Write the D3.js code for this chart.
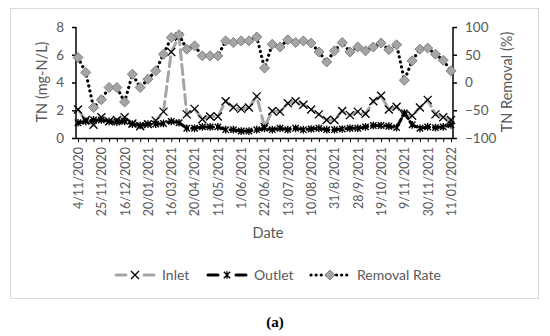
<!DOCTYPE html>
<html>
<head>
<meta charset="utf-8">
<script src="https://cdn.jsdelivr.net/npm/d3@7"></script>
<style>
  body { margin: 0; background: #fff; }
  svg text { font-family: Lato, "Open Sans", sans-serif; }
</style>
</head>
<body>
<div id="chart"></div>
<script>
// sampling dates (only every third one is labelled on the axis)
const dates = [
  '4/11/2020', '11/11/2020', '18/11/2020', '25/11/2020', '2/12/2020', '9/12/2020',
  '16/12/2020', '6/01/2021', '13/01/2021', '20/01/2021', '2/03/2021', '9/03/2021',
  '16/03/2021', '23/03/2021', '13/04/2021', '20/04/2021', '27/04/2021', '4/05/2021',
  '11/05/2021', '18/05/2021', '25/05/2021', '1/06/2021', '8/06/2021', '15/06/2021',
  '22/06/2021', '29/06/2021', '6/07/2021', '13/07/2021', '27/07/2021', '3/08/2021',
  '10/08/2021', '17/08/2021', '24/08/2021', '31/8/2021', '14/9/2021', '21/9/2021',
  '28/9/2021', '5/10/2021', '12/10/2021', '19/10/2021', '26/10/2021', '2/11/2021',
  '9/11/2021', '16/11/2021', '23/11/2021', '30/11/2021', '14/12/2021', '21/12/2021',
  '11/01/2022'
];

// TN (mg-N/L)
const inlet = [
  2.05, 1.3, 0.95, 1.5, 1.2, 1.3, 1.5, 1.05, 0.85, 1.0, 1.25, 1.9,
  6.2, 7.3, 1.7, 2.1, 1.35, 1.55, 1.55, 2.65, 2.2, 2.1, 2.2, 3.0,
  0.8, 1.95, 1.9, 2.5, 2.65, 2.4, 2.05, 1.7, 1.3, 1.3, 1.95, 1.65,
  1.9, 1.75, 2.65, 3.05, 2.05, 2.25, 1.65, 1.6, 2.2, 2.75, 1.7, 1.5, 1.3
];
const outlet = [
  1.1, 1.2, 1.3, 1.3, 1.2, 1.15, 1.2, 1.0, 0.9, 1.0, 1.0, 1.05,
  1.2, 1.1, 0.7, 0.7, 0.8, 0.8, 0.8, 0.6, 0.6, 0.5, 0.5, 0.6,
  0.7, 0.6, 0.7, 0.6, 0.7, 0.6, 0.65, 0.7, 0.6, 0.6, 0.65, 0.7,
  0.7, 0.8, 0.9, 0.9, 0.85, 0.75, 1.8, 0.95, 0.7, 0.8, 0.75, 0.8, 0.95
];
// TN removal (%)
const removal = [
  45, 18, -45, -31, -9, -9, -35, 15, -9, 6, 21, 51,
  81, 86, 60, 66, 48, 48, 48, 75, 72, 75, 75, 82,
  26, 69, 64, 77, 72, 75, 71, 55, 37, 57, 72, 55,
  64, 57, 64, 71, 59, 68, 4, 39, 60, 62, 51, 40, 21
];

const tnTicks = [0, 2, 4, 6, 8];
const remTicks = [-100, -50, 0, 50, 100];

const W = 550, H = 336;
const textGrey = '#595959';

const svg = d3.select('#chart').append('svg')
  .attr('width', W).attr('height', H);

// outer frame
svg.append('rect')
  .attr('x', 10.5).attr('y', 8.5)
  .attr('width', 528).attr('height', 290)
  .attr('fill', 'none').attr('stroke', '#d9d9d9');

const x = d3.scalePoint().domain(dates).range([78, 451]);
const yL = d3.scaleLinear().domain([0, 8]).range([138, 27]);
const yR = d3.scaleLinear().domain([-100, 100]).range([138, 27]);

// axes
const xAxis = svg.append('g')
  .attr('transform', 'translate(0,138)')
  .call(d3.axisBottom(x)
    .tickSize(4)
    .tickFormat((d, i) => i % 3 === 0 ? d : ''));
xAxis.select('.domain').attr('d', 'M76,0.5H453').attr('stroke', '#000').attr('stroke-width', 1.5);
xAxis.selectAll('.tick line').attr('stroke', '#000');
xAxis.selectAll('.tick text')
  .attr('transform', 'rotate(-90)')
  .attr('text-anchor', 'end')
  .attr('x', -9).attr('y', 0).attr('dy', '0.35em')
  .attr('fill', textGrey)
  .style('font-size', '12.5px');

const leftAxis = svg.append('g')
  .attr('transform', 'translate(76,0)')
  .call(d3.axisLeft(yL).tickValues(tnTicks).tickSize(4).tickPadding(8));
leftAxis.select('.domain').attr('stroke', '#000').attr('stroke-width', 1.5)
  .attr('d', 'M0,' + yL(8) + 'V' + yL(0));
leftAxis.selectAll('.tick line').attr('stroke', '#000').attr('stroke-width', 1.5);
leftAxis.selectAll('.tick text').attr('fill', textGrey).style('font-size', '13.5px');

const rightAxis = svg.append('g')
  .attr('transform', 'translate(453,0)')
  .call(d3.axisRight(yR).tickValues(remTicks).tickSize(4).tickPadding(8));
rightAxis.select('.domain').attr('stroke', '#000').attr('stroke-width', 1.5)
  .attr('d', 'M0,' + yR(100) + 'V' + yR(-100));
rightAxis.selectAll('.tick line').attr('stroke', '#000').attr('stroke-width', 1.5);
rightAxis.selectAll('.tick text').attr('fill', textGrey).style('font-size', '13.5px');

// axis titles
svg.append('text')
  .attr('transform', 'translate(47,82) rotate(-90)')
  .attr('text-anchor', 'middle')
  .attr('fill', textGrey).style('font-size', '14.5px')
  .text('TN (mg-N/L)');
svg.append('text')
  .attr('transform', 'translate(512,82) rotate(-90)')
  .attr('text-anchor', 'middle')
  .attr('fill', textGrey).style('font-size', '14.5px')
  .text('TN Removal (%)');
svg.append('text')
  .attr('x', 268).attr('y', 238)
  .attr('text-anchor', 'middle')
  .attr('fill', textGrey).style('font-size', '14.5px')
  .text('Date');

// marker shapes
const crossPath = s => `M${-s},${-s}L${s},${s}M${-s},${s}L${s},${-s}`;
const starPath = s => crossPath(s) + `M0,${-s * 1.2}L0,${s * 1.2}`;
const diamondPath = s => `M0,${-s}L${s},0L0,${s}L${-s},0Z`;

const series = [
  { name: 'Inlet', values: inlet, y: yL, stroke: '#a5a5a5', dash: '10,5', width: 3,
    marker: crossPath(4), mFill: 'none', mStroke: '#000', mWidth: 1.3 },
  { name: 'Outlet', values: outlet, y: yL, stroke: '#000', dash: '9,4', width: 3,
    marker: starPath(3.2), mFill: 'none', mStroke: '#000', mWidth: 1.4 },
  { name: 'Removal Rate', values: removal, y: yR, stroke: '#000', dash: '0.1,5', width: 3.2,
    marker: diamondPath(5), mFill: '#a5a5a5', mStroke: '#7f7f7f', mWidth: 1 }
];

series.forEach(s => {
  const line = d3.line()
    .x((d, i) => x(dates[i]))
    .y(d => s.y(d));

  svg.append('path')
    .datum(s.values)
    .attr('d', line)
    .attr('fill', 'none')
    .attr('stroke', s.stroke)
    .attr('stroke-width', s.width)
    .attr('stroke-dasharray', s.dash)
    .attr('stroke-linecap', 'round');

  svg.append('g').selectAll('path')
    .data(s.values)
    .enter().append('path')
    .attr('transform', (d, i) => `translate(${x(dates[i])},${s.y(d)})`)
    .attr('d', s.marker)
    .attr('fill', s.mFill)
    .attr('stroke', s.mStroke)
    .attr('stroke-width', s.mWidth);
});

// legend
const legendX = [115, 207, 310];
const legend = svg.append('g').attr('transform', 'translate(0,275)');
series.forEach((s, i) => {
  const g = legend.append('g').attr('transform', `translate(${legendX[i]},0)`);
  g.append('line')
    .attr('x1', 1).attr('x2', 39)
    .attr('stroke', s.stroke)
    .attr('stroke-width', s.width)
    .attr('stroke-dasharray', s.name === 'Removal Rate' ? '0.1,5' : '10,18')
    .attr('stroke-linecap', 'round');
  g.append('path')
    .attr('transform', 'translate(20,0)')
    .attr('d', s.marker)
    .attr('fill', s.mFill)
    .attr('stroke', s.mStroke)
    .attr('stroke-width', s.mWidth);
  g.append('text')
    .attr('x', 47).attr('dy', '0.35em')
    .attr('fill', textGrey).style('font-size', '14px')
    .text(s.name);
});

// panel caption
svg.append('text')
  .attr('x', 275).attr('y', 327)
  .attr('text-anchor', 'middle')
  .style('font-family', '"Liberation Serif", serif')
  .style('font-size', '15px')
  .style('font-weight', 'bold')
  .text('(a)');
</script>
</body>
</html>
